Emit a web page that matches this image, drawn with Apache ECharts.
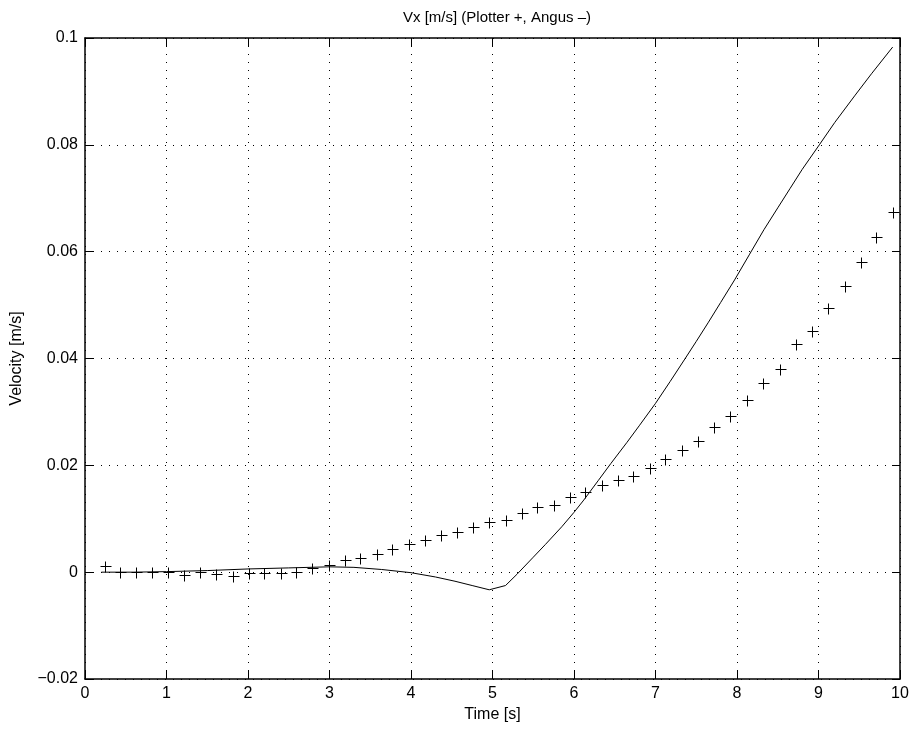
<!DOCTYPE html>
<html>
<head>
<meta charset="utf-8">
<script src="https://cdn.jsdelivr.net/npm/echarts@6/dist/echarts.min.js"></script>
<style>html,body{margin:0;padding:0;background:#fff;}#c{width:914px;height:730px;}</style>
</head>
<body>
<div id="c"></div>
<script>
// Plotter (+) samples
var plotterTime = [0.24,0.43,0.63,0.82,1.02,1.22,1.41,1.61,1.81,2.01,2.20,2.40,2.59,2.79,2.99,3.19,3.38,3.58,3.77,3.97,4.17,4.37,4.56,4.76,4.96,5.16,5.36,5.55,5.75,5.95,6.14,6.34,6.54,6.73,6.93,7.12,7.32,7.52,7.72,7.92,8.12,8.32,8.53,8.72,8.92,9.12,9.32,9.52,9.71,9.92];
var plotterVx = [0.0012,0,0,0,0,-0.0006,0,-0.0004,-0.0007,-0.0001,-0.0001,-0.0001,0,0.0007,0.0013,0.0022,0.0026,0.0034,0.0044,0.0053,0.0060,0.0069,0.0075,0.0084,0.0093,0.0097,0.0110,0.0122,0.0126,0.0140,0.0151,0.0164,0.0172,0.0180,0.0195,0.0211,0.0228,0.0246,0.0271,0.0293,0.0323,0.0355,0.0381,0.0427,0.0452,0.0495,0.0536,0.0580,0.0627,0.0674];
// Angus (-) curve
var angusTime = [0.2,0.6,1.0,1.5,2.0,2.5,3.0,3.3,3.64,4.0,4.3,4.54,4.75,4.96,5.16,5.3,5.5,5.65,5.85,6.0,6.12,6.3,6.45,6.65,6.8,7.0,7.18,7.36,7.5,7.65,7.8,7.97,8.15,8.33,8.5,8.65,8.8,9.01,9.2,9.45,9.65,9.91];
var angusVx = [0,0,0.0001,0.0003,0.0006,0.0008,0.0010,0.0009,0.0005,-0.0001,-0.0009,-0.0017,-0.0025,-0.0033,-0.0025,-0.0004,0.0028,0.0052,0.0085,0.0112,0.0135,0.0172,0.0203,0.0243,0.0274,0.0316,0.0357,0.0399,0.0432,0.0468,0.0505,0.0547,0.0594,0.0641,0.0682,0.0718,0.0754,0.0800,0.0842,0.0893,0.0933,0.0983];
// Axis ticks
var xTicks = [0,1,2,3,4,5,6,7,8,9,10];
var yTicks = [-0.02,0,0.02,0.04,0.06,0.08,0.1];
var yTickLabels = ['\u22120.02','0','0.02','0.04','0.06','0.08','0.1'];
var titleText = 'Vx [m/s] (Plotter +, Angus \u2013)';
var xName = 'Time [s]';
var yName = 'Velocity [m/s]';

function zip(a, b) { return a.map(function (v, i) { return [v, b[i]]; }); }
function yLabel(v) {
  for (var i = 0; i < yTicks.length; i++) if (Math.abs(yTicks[i] - v) < 1e-9) return yTickLabels[i];
  return '';
}
var FONT = 'Liberation Sans, Arial, sans-serif';
var dotted = { color: '#000', width: 1, type: [1, 7] };
var border = { color: '#000', width: 1.5 };
var tick = { show: true, inside: true, length: 8, lineStyle: { color: '#000', width: 1 } };

function renderPlus(params, api) {
  var p = api.coord([api.value(0), api.value(1)]);
  var cx = Math.round(p[0]) + 0.5, cy = Math.round(p[1]) + 0.5, r = 5;
  var st = { stroke: '#000', lineWidth: 1 };
  return { type: 'group', children: [
    { type: 'line', shape: { x1: cx - r, y1: cy, x2: cx + r + 1, y2: cy }, style: st },
    { type: 'line', shape: { x1: cx, y1: cy - r, x2: cx, y2: cy + r + 1 }, style: st }
  ] };
}

var chart = echarts.init(document.getElementById('c'));
chart.setOption({
  animation: false,
  backgroundColor: '#fff',
  title: { text: titleText, left: 492, top: 5, textAlign: 'center',
    textStyle: { fontFamily: FONT, fontSize: 15, fontWeight: 'normal', color: '#000' } },
  grid: { left: 85, right: 14, top: 38, bottom: 51, containLabel: false },
  xAxis: [{
    type: 'value', min: xTicks[0], max: xTicks[xTicks.length - 1], interval: 1,
    name: xName, nameLocation: 'middle', nameGap: 27,
    nameTextStyle: { fontFamily: FONT, fontSize: 16, color: '#000' },
    axisLine: { show: true, onZero: false, lineStyle: border },
    axisTick: tick,
    axisLabel: { fontFamily: FONT, fontSize: 16, color: '#000', margin: 7 },
    splitLine: { show: true, lineStyle: dotted }
  }, {
    type: 'value', position: 'top', min: xTicks[0], max: xTicks[xTicks.length - 1], interval: 1,
    axisLine: { show: true, onZero: false, lineStyle: border },
    axisTick: tick,
    axisLabel: { show: false }, splitLine: { show: false }
  }],
  yAxis: [{
    type: 'value', min: yTicks[0], max: yTicks[yTicks.length - 1], interval: 0.02,
    name: yName, nameLocation: 'middle', nameGap: 60,
    nameTextStyle: { fontFamily: FONT, fontSize: 16, color: '#000' },
    axisLine: { show: true, onZero: false, lineStyle: border },
    axisTick: tick,
    axisLabel: { fontFamily: FONT, fontSize: 16, color: '#000', margin: 7, formatter: yLabel },
    splitLine: { show: true, lineStyle: dotted }
  }, {
    type: 'value', position: 'right', min: yTicks[0], max: yTicks[yTicks.length - 1], interval: 0.02,
    axisLine: { show: true, onZero: false, lineStyle: border },
    axisTick: tick,
    axisLabel: { show: false }, splitLine: { show: false }
  }],
  series: [{
    name: 'Angus', type: 'line', data: zip(angusTime, angusVx), showSymbol: false,
    lineStyle: { color: '#000', width: 1 }, itemStyle: { color: '#000' }, z: 2
  }, {
    name: 'Plotter', type: 'custom', data: zip(plotterTime, plotterVx),
    renderItem: renderPlus, z: 3
  }]
});
</script>
</body>
</html>
